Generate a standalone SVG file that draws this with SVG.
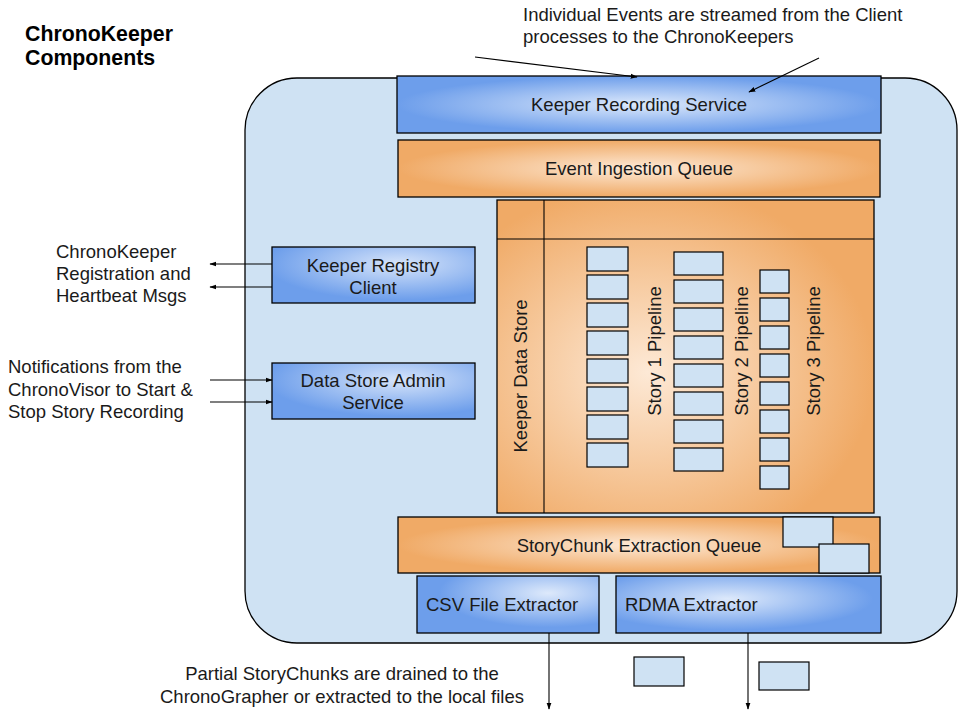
<svg xmlns="http://www.w3.org/2000/svg" width="961" height="717" viewBox="0 0 961 717">
<style>
text{font-family:"Liberation Sans",Arial,sans-serif;font-size:18.5px;fill:#1a1a1a}
.t{font-weight:bold;font-size:21.3px;fill:#000}
.c{text-anchor:middle}
.bx{stroke:#000;stroke-width:1.3}
.lb{fill:#cfe2f3;stroke:#000;stroke-width:1.2}
.ln{stroke:#000;stroke-width:1.1;fill:none}
.ar{stroke:#000;stroke-width:1.1;fill:none;marker-end:url(#ah)}
</style>
<defs>
<marker id="ah" viewBox="0 0 10 10" refX="9" refY="5" markerWidth="7" markerHeight="7" markerUnits="userSpaceOnUse" orient="auto">
<path d="M0,1.5 L10,5 L0,8.5 Z" fill="#000"/>
</marker>
<radialGradient id="bc" cx="0.5" cy="0.5" r="0.5"><stop offset="0" stop-color="#dde9fb"/><stop offset="1" stop-color="#6d9eeb"/></radialGradient>
<radialGradient id="bcsv" cx="0.72" cy="0.3" r="0.6"><stop offset="0" stop-color="#dde9fb"/><stop offset="1" stop-color="#6d9eeb"/></radialGradient>
<radialGradient id="brd" cx="0.42" cy="0.4" r="0.55"><stop offset="0" stop-color="#dde9fb"/><stop offset="1" stop-color="#6d9eeb"/></radialGradient>
<radialGradient id="bsm" cx="0.62" cy="0.3" r="0.65"><stop offset="0" stop-color="#d6e4fa"/><stop offset="1" stop-color="#6d9eeb"/></radialGradient>
<radialGradient id="oc" cx="0.5" cy="0.5" r="0.5"><stop offset="0" stop-color="#fde9d6"/><stop offset="1" stop-color="#f0aa66"/></radialGradient>
<radialGradient id="ods" cx="0.4" cy="0.55" r="0.6"><stop offset="0" stop-color="#fde9d6"/><stop offset="1" stop-color="#f0aa66"/></radialGradient>
</defs>
<rect width="961" height="717" fill="#fff"/>

<g id="title">
<text class="t" x="25" y="41">ChronoKeeper</text>
<text class="t" x="25" y="65">Components</text>
</g>

<g id="chronokeeper">
<rect x="245" y="78" width="712" height="565" rx="52" ry="52" fill="#cfe2f3" stroke="#000" stroke-width="1.3"/>
</g>

<g id="recording-service">
<rect class="bx" x="397" y="76" width="484" height="57" fill="url(#bc)"/>
<text class="c" x="639" y="111">Keeper Recording Service</text>
</g>

<g id="ingestion-queue">
<rect class="bx" x="398" y="140" width="482" height="57" fill="url(#oc)"/>
<text class="c" x="639" y="175">Event Ingestion Queue</text>
</g>

<g id="data-store">
<rect class="bx" x="497" y="200" width="377" height="313" fill="url(#ods)"/>
<line class="ln" x1="544" y1="200" x2="544" y2="513"/>
<line class="ln" x1="497" y1="239" x2="874" y2="239"/>
<text class="c" transform="translate(527,376) rotate(-90)">Keeper Data Store</text>
</g>

<g id="story1">
<rect class="lb" x="587" y="247" width="41" height="24"/>
<rect class="lb" x="587" y="275" width="41" height="24"/>
<rect class="lb" x="587" y="303" width="41" height="24"/>
<rect class="lb" x="587" y="331" width="41" height="24"/>
<rect class="lb" x="587" y="359" width="41" height="24"/>
<rect class="lb" x="587" y="387" width="41" height="24"/>
<rect class="lb" x="587" y="415" width="41" height="24"/>
<rect class="lb" x="587" y="443" width="41" height="24"/>
<text class="c" transform="translate(661,351) rotate(-90)">Story 1 Pipeline</text>
</g>

<g id="story2">
<rect class="lb" x="674" y="252" width="49" height="23"/>
<rect class="lb" x="674" y="280" width="49" height="23"/>
<rect class="lb" x="674" y="308" width="49" height="23"/>
<rect class="lb" x="674" y="336" width="49" height="23"/>
<rect class="lb" x="674" y="364" width="49" height="23"/>
<rect class="lb" x="674" y="392" width="49" height="23"/>
<rect class="lb" x="674" y="420" width="49" height="23"/>
<rect class="lb" x="674" y="448" width="49" height="23"/>
<text class="c" transform="translate(748,351) rotate(-90)">Story 2 Pipeline</text>
</g>

<g id="story3">
<rect class="lb" x="760" y="270" width="29" height="23"/>
<rect class="lb" x="760" y="298" width="29" height="23"/>
<rect class="lb" x="760" y="326" width="29" height="23"/>
<rect class="lb" x="760" y="354" width="29" height="23"/>
<rect class="lb" x="760" y="382" width="29" height="23"/>
<rect class="lb" x="760" y="410" width="29" height="23"/>
<rect class="lb" x="760" y="438" width="29" height="23"/>
<rect class="lb" x="760" y="466" width="29" height="23"/>
<text class="c" transform="translate(820,351) rotate(-90)">Story 3 Pipeline</text>
</g>

<g id="registry-client">
<rect class="bx" x="272" y="247" width="203" height="56" fill="url(#bsm)"/>
<text class="c" x="373" y="272">Keeper Registry</text>
<text class="c" x="373" y="294">Client</text>
</g>

<g id="admin-service">
<rect class="bx" x="272" y="363" width="203" height="56" fill="url(#bsm)"/>
<text class="c" x="373" y="387">Data Store Admin</text>
<text class="c" x="373" y="409">Service</text>
</g>

<g id="extraction-queue">
<rect class="bx" x="398" y="517" width="482" height="56" fill="url(#oc)"/>
<text class="c" x="639" y="552">StoryChunk Extraction Queue</text>
<rect class="lb" x="783" y="517" width="50" height="30"/>
<rect class="lb" x="819" y="544" width="50" height="29"/>
</g>

<g id="csv-extractor">
<rect class="bx" x="417" y="576" width="182" height="57" fill="url(#bcsv)"/>
<text x="426" y="611">CSV File Extractor</text>
</g>

<g id="rdma-extractor">
<rect class="bx" x="616" y="576" width="265" height="57" fill="url(#brd)"/>
<text x="625" y="611">RDMA Extractor</text>
</g>

<g id="chunks-out">
<rect class="lb" x="634" y="657" width="50" height="29"/>
<rect class="lb" x="759" y="662" width="50" height="28"/>
</g>

<g id="connectors">
<line class="ar" x1="475" y1="57" x2="637" y2="77"/>
<line class="ar" x1="819" y1="58" x2="749" y2="92"/>
<line class="ar" x1="272" y1="264" x2="210" y2="264"/>
<line class="ar" x1="272" y1="287" x2="210" y2="287"/>
<line class="ar" x1="210" y1="380" x2="272" y2="380"/>
<line class="ar" x1="210" y1="402" x2="272" y2="402"/>
<line class="ar" x1="549" y1="633" x2="549" y2="709"/>
<line class="ar" x1="748" y1="633" x2="748" y2="709"/>
</g>

<g id="labels">
<text x="523" y="21">Individual Events are streamed from the Client</text>
<text x="523" y="43">processes to the ChronoKeepers</text>
<text x="56" y="258">ChronoKeeper</text>
<text x="56" y="280">Registration and</text>
<text x="56" y="302">Heartbeat Msgs</text>
<text x="8" y="373">Notifications from the</text>
<text x="8" y="396">ChronoVisor to Start &amp;</text>
<text x="8" y="418">Stop Story Recording</text>
<text class="c" x="342" y="680">Partial StoryChunks are drained to the</text>
<text class="c" x="342" y="703">ChronoGrapher or extracted to the local files</text>
</g>
</svg>
